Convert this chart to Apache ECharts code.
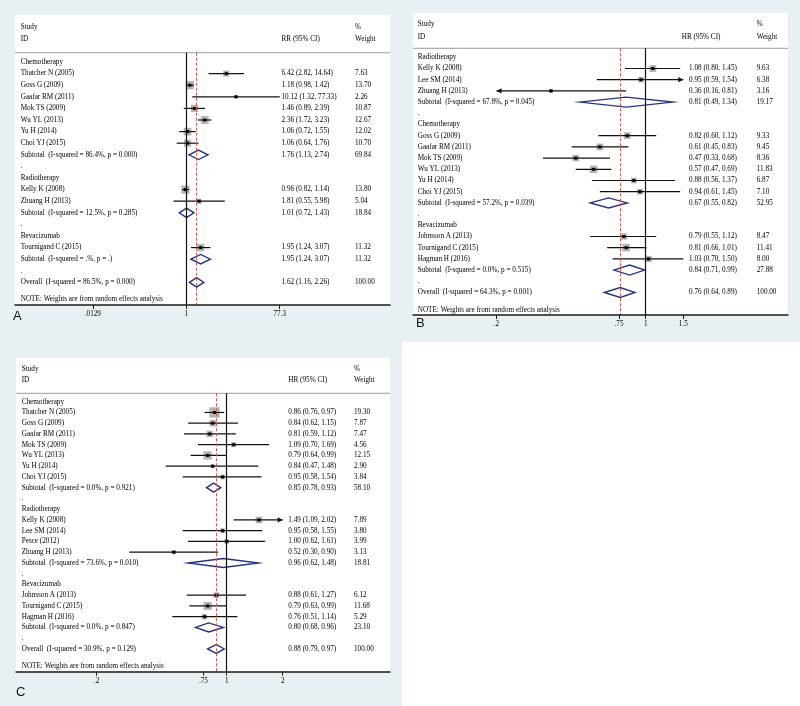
<!DOCTYPE html>
<html><head><meta charset="utf-8">
<script src="https://cdn.jsdelivr.net/npm/echarts@6/dist/echarts.min.js"></script>
<style>html,body{margin:0;padding:0;background:#e9f0f3;}#c{width:800px;height:706px;}</style>
</head><body><div id="c"></div>
<script>
// ---------------- Panel A (RR) ----------------
const aLabels = ['Chemotherapy','Thatcher N (2005)','Goss G (2009)','Gaafar RM (2011)','Mok TS (2009)','Wu YL (2013)','Yu H (2014)','Choi YJ (2015)',
  'Subtotal  (I-squared = 86.4%, p = 0.000)','.','Radiotherapy','Kelly K (2008)','Zhuang H (2013)','Subtotal  (I-squared = 12.5%, p = 0.285)','.',
  'Bevacizumab','Tournigand C (2015)','Subtotal  (I-squared = .%, p = .)','.','Overall  (I-squared = 86.5%, p = 0.000)'];
const aKinds = ['group','study','study','study','study','study','study','study','sub','gap','group','study','study','sub','gap','group','study','sub','gap','overall'];
const aEst  = [null,6.42,1.18,10.12,1.46,2.36,1.06,1.06,1.76,null,null,0.96,1.81,1.01,null,null,1.95,1.95,null,1.62];
const aLow  = [null,2.82,0.98,1.32,0.89,1.72,0.72,0.64,1.13,null,null,0.82,0.55,0.72,null,null,1.24,1.24,null,1.16];
const aHigh = [null,14.64,1.42,77.33,2.39,3.23,1.55,1.76,2.74,null,null,1.14,5.98,1.43,null,null,3.07,3.07,null,2.26];
const aWeight = [null,7.63,13.70,2.26,10.87,12.67,12.02,10.70,69.84,null,null,13.80,5.04,18.84,null,null,11.32,11.32,null,100.00];
const aTicks = [0.01293, 1, 77.33];
const aTickLabels = ['.0129','1','77.3'];

// ---------------- Panel B (HR) ----------------
const bLabels = ['Radiotherapy','Kelly K (2008)','Lee SM (2014)','Zhuang H (2013)','Subtotal  (I-squared = 67.8%, p = 0.045)','.',
  'Chemotherapy','Goss G (2009)','Gaafar RM (2011)','Mok TS (2009)','Wu YL (2013)','Yu H (2014)','Choi YJ (2015)','Subtotal  (I-squared = 57.2%, p = 0.039)','.',
  'Bevacizumab','Johnsson A (2013)','Tournigand C (2015)','Hagman H (2016)','Subtotal  (I-squared = 0.0%, p = 0.515)','.','Overall  (I-squared = 64.3%, p = 0.001)'];
const bKinds = ['group','study','study','study','sub','gap','group','study','study','study','study','study','study','sub','gap','group','study','study','study','sub','gap','overall'];
const bEst  = [null,1.08,0.95,0.36,0.81,null,null,0.82,0.61,0.47,0.57,0.88,0.94,0.67,null,null,0.79,0.81,1.03,0.84,null,0.76];
const bLow  = [null,0.80,0.59,0.16,0.49,null,null,0.60,0.45,0.33,0.47,0.56,0.61,0.55,null,null,0.55,0.66,0.70,0.71,null,0.64];
const bHigh = [null,1.45,1.54,0.81,1.34,null,null,1.12,0.83,0.68,0.69,1.37,1.45,0.82,null,null,1.12,1.01,1.50,0.99,null,0.89];
const bWeight = [null,9.63,6.38,3.16,19.17,null,null,9.33,9.45,8.36,11.83,6.87,7.10,52.95,null,null,8.47,11.41,8.00,27.88,null,100.00];
const bTicks = [0.2, 0.75, 1, 1.5];
const bTickLabels = ['.2','.75','1','1.5'];

// ---------------- Panel C (HR) ----------------
const cLabels = ['Chemotherapy','Thatcher N (2005)','Goss G (2009)','Gaafar RM (2011)','Mok TS (2009)','Wu YL (2013)','Yu H (2014)','Choi YJ (2015)',
  'Subtotal  (I-squared = 0.0%, p = 0.921)','.','Radiotherapy','Kelly K (2008)','Lee SM (2014)','Pesce (2012)','Zhuang H (2013)',
  'Subtotal  (I-squared = 73.6%, p = 0.010)','.','Bevacizumab','Johnsson A (2013)','Tournigand C (2015)','Hagman H (2016)',
  'Subtotal  (I-squared = 0.0%, p = 0.847)','.','Overall  (I-squared = 30.9%, p = 0.129)'];
const cKinds = ['group','study','study','study','study','study','study','study','sub','gap','group','study','study','study','study','sub','gap','group','study','study','study','sub','gap','overall'];
const cEst  = [null,0.86,0.84,0.81,1.09,0.79,0.84,0.95,0.85,null,null,1.49,0.95,1.00,0.52,0.96,null,null,0.88,0.79,0.76,0.80,null,0.88];
const cLow  = [null,0.76,0.62,0.59,0.70,0.64,0.47,0.58,0.78,null,null,1.09,0.58,0.62,0.30,0.62,null,null,0.61,0.63,0.51,0.68,null,0.79];
const cHigh = [null,0.97,1.15,1.12,1.69,0.99,1.48,1.54,0.93,null,null,2.02,1.55,1.61,0.90,1.48,null,null,1.27,0.99,1.14,0.96,null,0.97];
const cWeight = [null,19.30,7.87,7.47,4.56,12.15,2.90,3.84,58.10,null,null,7.89,3.80,3.99,3.13,18.81,null,null,6.12,11.68,5.29,23.10,null,100.00];
const cTicks = [0.2, 0.75, 1, 2];
const cTickLabels = ['.2','.75','1','2'];

const noteText = 'NOTE: Weights are from random effects analysis';

// ---------------- layout (pixels) ----------------
const FONT = '"Liberation Serif","Times New Roman",serif';
const panels = [
  {labels:aLabels,kinds:aKinds,est:aEst,low:aLow,high:aHigh,weight:aWeight,ticks:aTicks,tickLabels:aTickLabels,effect:'RR (95% CI)',
   L:{boxL:15,boxT:15,boxR:390,axisY:305,onePx:186.3,pxPerLn:21.49,row0:62,rowH:11.6,headLineY:52.7,studyY:26.7,idY:39.3,
      colStudy:20.7,colCI:281.5,colCIHead:281.5,colW:355,boxK:2.2,diaH:9.5,letter:'A',letterX:13,letterY:316,noteY:299.3}},
  {labels:bLabels,kinds:bKinds,est:bEst,low:bLow,high:bHigh,weight:bWeight,ticks:bTicks,tickLabels:bTickLabels,effect:'HR (95% CI)',
   L:{boxL:413,boxT:13,boxR:788,axisY:315,onePx:645.7,pxPerLn:92.7,row0:57.3,rowH:11.2,headLineY:48.3,studyY:24,idY:37.3,
      colStudy:417.7,colCI:689,colCIHead:681.7,colW:756.7,boxK:2.2,diaH:10,letter:'B',letterX:416,letterY:323,noteY:310}},
  {labels:cLabels,kinds:cKinds,est:cEst,low:cLow,high:cHigh,weight:cWeight,ticks:cTicks,tickLabels:cTickLabels,effect:'HR (95% CI)',
   L:{boxL:16,boxT:358,boxR:390,axisY:671.7,onePx:226.7,pxPerLn:80.8,row0:401.7,rowH:10.75,headLineY:393.3,studyY:369.3,idY:380,
      colStudy:21.7,colCI:288.3,colCIHead:288.3,colW:354,boxK:2.35,diaH:9,letter:'C',letterX:16,letterY:692,noteY:665.7}}
];

const TXT = '#000000';
const FS = 7.2;
const grids=[], xAxes=[], yAxes=[], series=[], graphics=[];
graphics.push({type:'rect', z:-10, shape:{x:402,y:342,width:398,height:364}, style:{fill:'#ffffff'}});

function txt(x,y,s,opt){
  return Object.assign({type:'text', x:x, y:y, z:10, style:{text:s, fill:TXT, fontSize:FS, fontFamily:FONT, verticalAlign:'middle', textVerticalAlign:'middle', align:'left'}}, opt||{});
}

panels.forEach((P, gi) => {
  const L = P.L;
  const tMin = P.ticks[0], tMax = P.ticks[P.ticks.length-1];
  graphics.push({type:'rect', z:-10, shape:{x:L.boxL,y:L.boxT,width:L.boxR-L.boxL,height:L.axisY-L.boxT}, style:{fill:'#ffffff'}});
  graphics.push(txt(L.colStudy, L.studyY, 'Study'));
  graphics.push(txt(L.colStudy, L.idY, 'ID'));
  graphics.push(txt(L.colCIHead, L.idY, P.effect));
  graphics.push(txt(L.colW, L.studyY, '%'));
  graphics.push(txt(L.colW, L.idY, 'Weight'));
  graphics.push({type:'line', z:1, shape:{x1:L.boxL,y1:L.headLineY,x2:L.boxR,y2:L.headLineY}, style:{stroke:'#b0b0b0', lineWidth:1.3}});
  graphics.push(txt(L.colStudy, L.noteY, noteText));
  graphics.push({type:'text', x:L.letterX, y:L.letterY, z:10, style:{text:L.letter, fill:'#111', fontSize:13, fontFamily:'"Liberation Sans",Arial,sans-serif', verticalAlign:'middle', textVerticalAlign:'middle'}});

  grids.push({left:L.boxL, top:L.headLineY, width:L.boxR-L.boxL, height:L.axisY-L.headLineY, containLabel:false});
  const tickLn = P.ticks.map(Math.log);
  xAxes.push({type:'value', gridIndex:gi, position:'bottom',
    min:(L.boxL-L.onePx)/L.pxPerLn, max:(L.boxR-L.onePx)/L.pxPerLn, z:5,
    axisLine:{show:true, onZero:false, lineStyle:{color:'#1a1a1a', width:1.5}},
    axisTick:{show:true, length:4, customValues:tickLn, lineStyle:{color:'#1a1a1a', width:1}},
    axisLabel:{show:true, customValues:tickLn, margin:6, fontSize:FS, fontFamily:FONT, color:TXT,
      formatter:(v)=>{let b=0; tickLn.forEach((t,i)=>{if(Math.abs(t-v)<Math.abs(tickLn[b]-v)) b=i;}); return P.tickLabels[b];}},
    splitLine:{show:false}});
  yAxes.push({type:'value', gridIndex:gi, inverse:true, show:false,
    min:(L.headLineY-L.row0)/L.rowH, max:(L.axisY-L.row0)/L.rowH});

  const studyData=[], diaData=[], textData=[];
  let overall = 1;
  P.labels.forEach((lab,i)=>{
    textData.push([0,i,i]);
    const k = P.kinds[i];
    if (k==='study') {
      const lo = Math.max(P.low[i], tMin), hi = Math.min(P.high[i], tMax);
      studyData.push([Math.log(P.est[i]), i, Math.log(lo), Math.log(hi), P.weight[i], P.low[i]<tMin?1:0, P.high[i]>tMax?1:0]);
    } else if (k==='sub' || k==='overall') {
      diaData.push([Math.log(P.est[i]), i, Math.log(P.low[i]), Math.log(P.high[i])]);
      if (k==='overall') overall = P.est[i];
    }
  });

  series.push({type:'line', xAxisIndex:gi, yAxisIndex:gi, data:[], silent:true,
    markLine:{silent:true, symbol:['none','none'], label:{show:false}, animation:false,
      data:[{xAxis:0, lineStyle:{color:'#111', width:1.2, type:'solid'}},
            {xAxis:Math.log(overall), lineStyle:{color:'#d9534f', width:1, type:[3,2]}}]}});

  series.push({type:'custom', xAxisIndex:gi, yAxisIndex:gi, clip:false, silent:true, z:4, data:studyData,
    renderItem:(params, api)=>{
      const c = api.coord([api.value(0), api.value(1)]);
      const l = api.coord([api.value(2), api.value(1)]);
      const r = api.coord([api.value(3), api.value(1)]);
      const s = L.boxK*Math.sqrt(api.value(4));
      const ch = [
        {type:'rect', shape:{x:c[0]-s/2,y:c[1]-s/2,width:s,height:s}, style:{fill:'#b3b3b3'}},
        {type:'line', shape:{x1:l[0],y1:c[1],x2:r[0],y2:c[1]}, style:{stroke:'#111', lineWidth:1.2}},
        {type:'rect', shape:{x:c[0]-1.5,y:c[1]-1.5,width:3,height:3}, style:{fill:'#000'}}
      ];
      if (api.value(5)) ch.push({type:'polygon', shape:{points:[[l[0],c[1]],[l[0]+5,c[1]-2.6],[l[0]+5,c[1]+2.6]]}, style:{fill:'#111'}});
      if (api.value(6)) ch.push({type:'polygon', shape:{points:[[r[0],c[1]],[r[0]-5,c[1]-2.6],[r[0]-5,c[1]+2.6]]}, style:{fill:'#111'}});
      return {type:'group', children:ch};
    }});

  series.push({type:'custom', xAxisIndex:gi, yAxisIndex:gi, clip:false, silent:true, z:4, data:diaData,
    renderItem:(params, api)=>{
      const c = api.coord([api.value(0), api.value(1)]);
      const l = api.coord([api.value(2), api.value(1)]);
      const r = api.coord([api.value(3), api.value(1)]);
      const h = L.diaH/2;
      return {type:'polygon', shape:{points:[[l[0],c[1]],[c[0],c[1]-h],[r[0],c[1]],[c[0],c[1]+h]]},
        style:{fill:'none', stroke:'#263480', lineWidth:1.4}};
    }});

  series.push({type:'custom', xAxisIndex:gi, yAxisIndex:gi, clip:false, silent:true, z:6, data:textData,
    renderItem:(params, api)=>{
      const i = api.value(2);
      const y = api.coord([0, api.value(1)])[1];
      const ch = [txt(L.colStudy, y, P.labels[i])];
      const k = P.kinds[i];
      if (k==='study' || k==='sub' || k==='overall') {
        ch.push(txt(L.colCI, y, P.est[i].toFixed(2)+' ('+P.low[i].toFixed(2)+', '+P.high[i].toFixed(2)+')'));
        ch.push(txt(L.colW, y, P.weight[i].toFixed(2)));
      }
      return {type:'group', children:ch};
    }});
});

const chart = echarts.init(document.getElementById('c'));
chart.setOption({backgroundColor:'#e9f0f3', animation:false, grid:grids, xAxis:xAxes, yAxis:yAxes, series:series, graphic:graphics});
</script></body></html>
